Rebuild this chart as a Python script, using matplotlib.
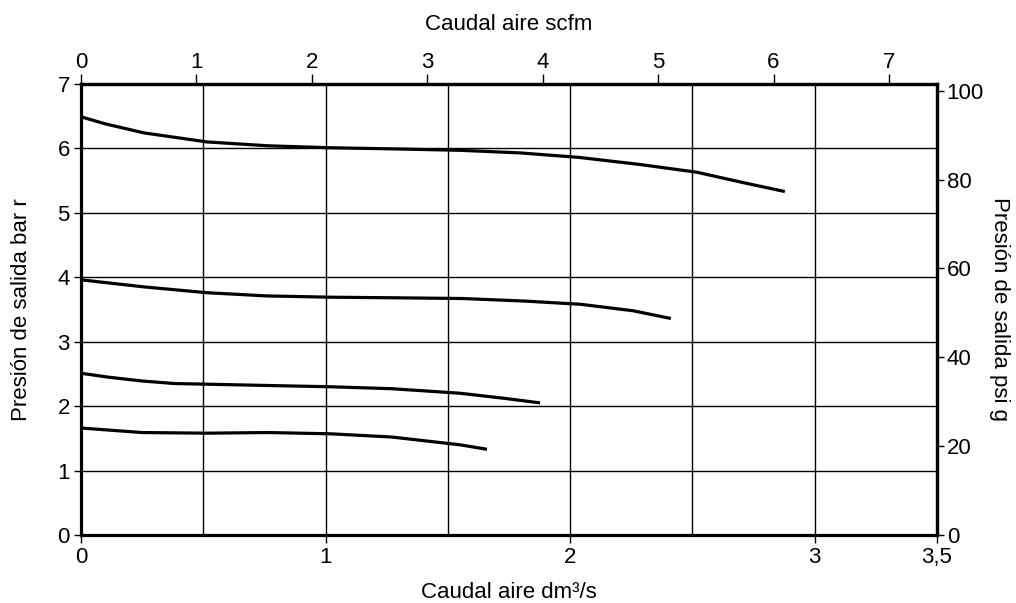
import matplotlib
matplotlib.use("Agg")
import matplotlib.pyplot as plt
from matplotlib.ticker import FixedLocator, FixedFormatter

plt.rcParams["font.family"] = ["Liberation Sans", "DejaVu Sans"]

# caudal aire (dm3/s) vs presion de salida (bar)
curve1_x = [0, 0.10, 0.258, 0.515, 0.765, 1.018, 1.304, 1.549, 1.795, 2.036, 2.285, 2.518, 2.706, 2.878]
curve1_y = [6.49, 6.38, 6.24, 6.10, 6.04, 6.01, 5.99, 5.97, 5.93, 5.86, 5.75, 5.63, 5.47, 5.33]

curve2_x = [0, 0.258, 0.515, 0.760, 1.026, 1.312, 1.558, 1.815, 2.044, 2.257, 2.412]
curve2_y = [3.96, 3.85, 3.76, 3.71, 3.69, 3.68, 3.67, 3.63, 3.58, 3.48, 3.36]

curve3_x = [0, 0.110, 0.249, 0.384, 0.515, 0.765, 1.022, 1.271, 1.549, 1.733, 1.877]
curve3_y = [2.51, 2.45, 2.39, 2.35, 2.34, 2.32, 2.30, 2.27, 2.20, 2.12, 2.05]

curve4_x = [0, 0.249, 0.515, 0.765, 1.022, 1.271, 1.549, 1.660]
curve4_y = [1.66, 1.59, 1.58, 1.59, 1.57, 1.52, 1.40, 1.33]

bottom_ticks = [0, 1, 2, 3, 3.5]
bottom_labels = ["0", "1", "2", "3", "3,5"]
grid_x = [0.5, 1, 1.5, 2, 2.5, 3]
left_ticks = [0, 1, 2, 3, 4, 5, 6, 7]
grid_y = [1, 2, 3, 4, 5, 6]
top_ticks = [0, 1, 2, 3, 4, 5, 6, 7]
right_ticks = [0, 20, 40, 60, 80, 100]

SCFM = 0.4719474  # dm3/s per scfm
PSI = 14.5038     # psi per bar

fig = plt.figure(figsize=(10.16, 6.03), dpi=100)
ax = fig.add_axes([0.0797, 0.1128, 0.8425, 0.748])

for gx in grid_x:
    ax.axvline(gx, color="black", lw=1.0, zorder=1)
for gy in grid_y:
    ax.axhline(gy, color="black", lw=1.0, zorder=1)

for xs, ys in [(curve1_x, curve1_y), (curve2_x, curve2_y), (curve3_x, curve3_y), (curve4_x, curve4_y)]:
    ax.plot(xs, ys, color="black", lw=2.3, solid_joinstyle="round", solid_capstyle="butt", zorder=3)

ax.set_xlim(0, 3.5)
ax.set_ylim(0, 7)
for s in ax.spines.values():
    s.set_linewidth(2.3)

FS = 16
ax.xaxis.set_major_locator(FixedLocator(bottom_ticks))
ax.xaxis.set_major_formatter(FixedFormatter(bottom_labels))
ax.set_yticks(left_ticks)
ax.tick_params(axis="x", direction="out", length=6, width=1, pad=3, labelsize=FS)
ax.tick_params(axis="y", direction="out", length=5, width=1, pad=3, labelsize=FS)
ax.set_xlabel("Caudal aire dm³/s", fontsize=FS, labelpad=10)
ax.set_ylabel("Presión de salida bar r", fontsize=FS, labelpad=18)

top = ax.secondary_xaxis("top", functions=(lambda v: v / SCFM, lambda v: v * SCFM))
top.set_xticks(top_ticks)
top.tick_params(direction="out", length=7, width=1, pad=1, labelsize=FS)
top.set_xlabel("Caudal aire scfm", fontsize=FS, labelpad=16)
top.spines["top"].set_linewidth(2.3)

right = ax.secondary_yaxis("right", functions=(lambda v: v * PSI, lambda v: v / PSI))
right.set_yticks(right_ticks)
right.tick_params(direction="out", length=5, width=1, pad=2, labelsize=FS)
right.set_ylabel("Presión de salida psi g", fontsize=FS, rotation=270, labelpad=19)
right.spines["right"].set_linewidth(2.3)

fig.savefig("out.png", dpi=100, facecolor="white")
